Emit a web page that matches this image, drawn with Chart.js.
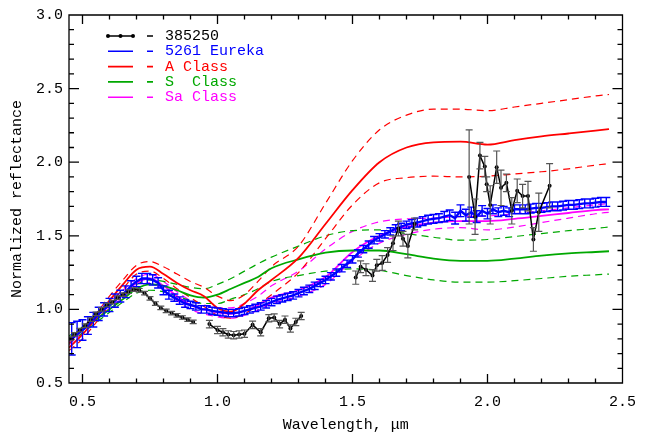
<!DOCTYPE html>
<html>
<head>
<meta charset="utf-8">
<script src="https://cdn.jsdelivr.net/npm/chart.js@4"></script>
<style>
  html, body { margin: 0; padding: 0; background: #fff; }
  canvas { display: block; }
</style>
</head>
<body>
<canvas id="myChart" width="646" height="441"></canvas>
<script>
// axis ticks
const xTickVals = [0.5, 1.0, 1.5, 2.0, 2.5];
const yTickVals = [0.5, 1.0, 1.5, 2.0, 2.5, 3.0];

// model classes (mean and +/- envelope)
const modelWave = [0.45, 0.50, 0.55, 0.60, 0.65, 0.70, 0.75, 0.80, 0.85, 0.90, 0.95, 1.00, 1.05, 1.10, 1.15, 1.20,
  1.30, 1.40, 1.50, 1.60, 1.70, 1.80, 1.90, 2.00, 2.10, 2.20, 2.30, 2.40, 2.45];
const aClass = [0.74, 0.83, 0.94, 1.06, 1.17, 1.27, 1.29, 1.24, 1.18, 1.13, 1.09, 1.01, 0.985, 1.04, 1.13, 1.20,
  1.35, 1.58, 1.81, 2.00, 2.10, 2.135, 2.14, 2.12, 2.15, 2.175, 2.195, 2.215, 2.225];
const aClassHi = [0.77, 0.86, 0.97, 1.09, 1.20, 1.30, 1.325, 1.29, 1.24, 1.19, 1.15, 1.09, 1.06, 1.10, 1.19, 1.29,
  1.43, 1.72, 2.01, 2.22, 2.32, 2.36, 2.36, 2.35, 2.375, 2.40, 2.425, 2.45, 2.46];
const aClassLo = [0.72, 0.80, 0.91, 1.03, 1.14, 1.24, 1.26, 1.21, 1.14, 1.08, 1.02, 0.96, 0.94, 0.97, 1.03, 1.10,
  1.25, 1.48, 1.71, 1.86, 1.895, 1.905, 1.90, 1.905, 1.92, 1.935, 1.955, 1.98, 1.99];
const sClass = [0.79, 0.86, 0.93, 1.00, 1.07, 1.14, 1.17, 1.16, 1.13, 1.095, 1.08, 1.10, 1.14, 1.18, 1.22, 1.28,
  1.34, 1.385, 1.40, 1.40, 1.375, 1.345, 1.33, 1.33, 1.345, 1.365, 1.38, 1.39, 1.395];
const sClassHi = [0.82, 0.88, 0.95, 1.02, 1.10, 1.17, 1.20, 1.19, 1.17, 1.15, 1.14, 1.17, 1.21, 1.26, 1.31, 1.355,
  1.43, 1.50, 1.535, 1.54, 1.515, 1.49, 1.47, 1.475, 1.495, 1.515, 1.535, 1.55, 1.56];
const sClassLo = [0.77, 0.84, 0.91, 0.98, 1.05, 1.11, 1.13, 1.12, 1.09, 1.06, 1.04, 1.04, 1.07, 1.10, 1.14, 1.19,
  1.23, 1.26, 1.275, 1.265, 1.23, 1.20, 1.185, 1.185, 1.195, 1.21, 1.225, 1.235, 1.24];
const saClass = [0.78, 0.86, 0.95, 1.03, 1.10, 1.18, 1.21, 1.16, 1.09, 1.03, 1.00, 0.98, 0.97, 0.99, 1.03, 1.08,
  1.13, 1.22, 1.39, 1.50, 1.56, 1.59, 1.60, 1.60, 1.615, 1.635, 1.655, 1.675, 1.68];
const saClassHi = [0.80, 0.88, 0.97, 1.05, 1.13, 1.21, 1.24, 1.19, 1.12, 1.06, 1.03, 1.01, 1.01, 1.04, 1.09, 1.16,
  1.26, 1.41, 1.53, 1.595, 1.615, 1.62, 1.63, 1.635, 1.65, 1.67, 1.69, 1.71, 1.72];
const saClassLo = [0.76, 0.84, 0.93, 1.01, 1.08, 1.15, 1.18, 1.13, 1.06, 1.00, 0.97, 0.95, 0.94, 0.96, 0.995, 1.04,
  1.09, 1.17, 1.33, 1.45, 1.51, 1.545, 1.555, 1.54, 1.56, 1.59, 1.62, 1.65, 1.66];

// 5261 Eureka spectrum
const eurekaWave = [0.46, 0.48, 0.50, 0.52, 0.54, 0.56, 0.58, 0.60, 0.62, 0.64, 0.66, 0.68, 0.70, 0.72, 0.74, 0.76,
  0.78, 0.80, 0.82, 0.84, 0.86, 0.88, 0.90, 0.92, 0.94, 0.96, 0.98, 1.00, 1.02, 1.04, 1.06, 1.08, 1.10, 1.12, 1.14,
  1.16, 1.18, 1.20, 1.22, 1.24, 1.26, 1.28, 1.30, 1.32, 1.34, 1.36, 1.38, 1.40, 1.42, 1.44, 1.46, 1.48, 1.50, 1.52,
  1.54, 1.56, 1.58, 1.60, 1.62, 1.64, 1.66, 1.68, 1.70, 1.72, 1.74, 1.76, 1.78, 1.80, 1.82, 1.84, 1.86, 1.88, 1.90,
  1.92, 1.94, 1.96, 1.98, 2.00, 2.02, 2.04, 2.06, 2.08, 2.10, 2.12, 2.14, 2.16, 2.18, 2.20, 2.22, 2.24, 2.26, 2.28,
  2.30, 2.32, 2.34, 2.36, 2.38, 2.40, 2.42, 2.44];
const eurekaRefl = [0.80, 0.83, 0.86, 0.89, 0.93, 0.97, 1.00, 1.03, 1.06, 1.09, 1.12, 1.16, 1.19, 1.21, 1.21, 1.20,
  1.18, 1.13, 1.10, 1.08, 1.06, 1.04, 1.03, 1.02, 1.00, 1.00, 0.99, 0.985, 0.98, 0.975, 0.975, 0.98, 0.99, 1.00, 1.01,
  1.02, 1.035, 1.05, 1.065, 1.075, 1.085, 1.095, 1.11, 1.125, 1.14, 1.16, 1.18, 1.20, 1.225, 1.25, 1.28, 1.31, 1.34, 1.38,
  1.41, 1.44, 1.47, 1.49, 1.51, 1.53, 1.55, 1.56, 1.575, 1.585, 1.59, 1.60, 1.61, 1.615, 1.62, 1.63, 1.64, 1.62, 1.67,
  1.64, 1.66, 1.63, 1.67, 1.65, 1.68, 1.66, 1.67, 1.66, 1.68, 1.68, 1.68, 1.685, 1.69, 1.69, 1.695, 1.70, 1.70, 1.705,
  1.71, 1.71, 1.715, 1.72, 1.72, 1.725, 1.73, 1.73];
const eurekaErr = [0.11, 0.09, 0.07, 0.06, 0.05, 0.045, 0.045, 0.045, 0.045, 0.04, 0.04, 0.035, 0.035, 0.035, 0.035, 0.035,
  0.035, 0.03, 0.03, 0.025, 0.025, 0.025, 0.025, 0.025, 0.025, 0.025, 0.025, 0.025, 0.025, 0.025, 0.025, 0.025, 0.025, 0.025, 0.025,
  0.025, 0.025, 0.025, 0.025, 0.025, 0.025, 0.025, 0.025, 0.025, 0.025, 0.025, 0.025, 0.025, 0.025, 0.025, 0.025, 0.025, 0.025, 0.025,
  0.025, 0.025, 0.025, 0.025, 0.025, 0.025, 0.025, 0.025, 0.025, 0.025, 0.03, 0.03, 0.03, 0.03, 0.03, 0.035, 0.035, 0.04, 0.04,
  0.04, 0.035, 0.04, 0.035, 0.035, 0.03, 0.03, 0.03, 0.03, 0.03, 0.03, 0.03, 0.03, 0.03, 0.03, 0.03, 0.03, 0.03, 0.03,
  0.03, 0.03, 0.03, 0.03, 0.03, 0.03, 0.03, 0.03];

// 385250 spectrum (null = gap between segments)
const obsWave = [0.45, 0.47, 0.49, 0.51, 0.53, 0.55, 0.57, 0.59, 0.61, 0.63, 0.65, 0.67, 0.69, 0.71, 0.73, 0.75, 0.77,
  0.79, 0.81, 0.83, 0.85, 0.87, 0.89, 0.91,
  0.94,
  0.97, 1.00, 1.02, 1.04, 1.06, 1.08, 1.10, 1.13, 1.16, 1.19, 1.21, 1.23, 1.25, 1.27, 1.29, 1.31,
  1.40,
  1.512, 1.53, 1.55, 1.574, 1.59, 1.61, 1.63, 1.65, 1.67, 1.687, 1.705, 1.73,
  1.83,
  1.932, 1.954, 1.972, 1.99, 1.997, 2.01, 2.034, 2.05, 2.07, 2.09, 2.11, 2.13, 2.15, 2.17, 2.19, 2.23];
const obsRefl = [0.80, 0.83, 0.86, 0.89, 0.93, 0.97, 1.00, 1.03, 1.05, 1.08, 1.10, 1.12, 1.135, 1.13, 1.11, 1.075, 1.04,
  1.01, 0.99, 0.975, 0.96, 0.945, 0.93, 0.915,
  null,
  0.90, 0.86, 0.845, 0.83, 0.825, 0.83, 0.835, 0.895, 0.845, 0.94, 0.945, 0.90, 0.93, 0.87, 0.915, 0.955,
  null,
  1.216, 1.29, 1.27, 1.23, 1.30, 1.315, 1.37, 1.45, 1.55, 1.48, 1.43, 1.58,
  null,
  1.90, 1.63, 2.045, 1.97, 1.85, 1.71, 1.966, 1.826, 1.86, 1.67, 1.806, 1.77, 1.77, 1.475, 1.66, 1.84];
const obsErr = [0.012, 0.012, 0.012, 0.012, 0.012, 0.012, 0.012, 0.012, 0.012, 0.012, 0.012, 0.012, 0.012, 0.012, 0.012,
  0.012, 0.012, 0.012, 0.012, 0.012, 0.012, 0.012, 0.012, 0.012,
  0,
  0.025, 0.025, 0.025, 0.025, 0.025, 0.025, 0.025, 0.025, 0.025, 0.025, 0.025, 0.025, 0.025, 0.025, 0.025, 0.025,
  0,
  0.045, 0.04, 0.04, 0.04, 0.04, 0.05, 0.05, 0.05, 0.05, 0.05, 0.08, 0.04,
  0,
  0.32, 0.12, 0.09, 0.07, 0.05, 0.13, 0.11, 0.12, 0.06, 0.09, 0.08, 0.08, 0.10, 0.08, 0.13, 0.15];

const FONT = "'Liberation Mono', 'DejaVu Sans Mono', monospace";
const RED = "#ff0000", GREEN = "#00a800", MAGENTA = "#ff00ff", BLUE = "#0000ff";

const pts = (xs, ys) => xs.map((x, i) => ({ x: x, y: ys[i] }));

const model = (label, ys, color, dashed, order) => ({
  label: label,
  data: pts(modelWave, ys),
  borderColor: color,
  borderWidth: dashed ? 1.2 : 1.8,
  borderDash: dashed ? [7, 5] : [],
  pointRadius: 0,
  cubicInterpolationMode: "monotone",
  fill: false,
  order: order,
});

//Error bars drawn right after their own dataset
const errorBars = {
  id: "errorBars",
  afterDatasetDraw(chart, args) {
    const ds = chart.data.datasets[args.index];
    if (!ds.errors) return;
    const { ctx, chartArea: a, scales: { x, y } } = chart;
    ctx.save();
    ctx.beginPath();
    ctx.rect(a.left, a.top, a.right - a.left, a.bottom - a.top);
    ctx.clip();
    ctx.strokeStyle = ds.errorColor;
    ctx.lineWidth = ds.errorWidth;
    ctx.beginPath();
    ds.data.forEach((p, i) => {
      const e = ds.errors[i];
      if (p.y === null || !e) return;
      const px = x.getPixelForValue(p.x);
      const top = y.getPixelForValue(p.y + e);
      const bot = y.getPixelForValue(p.y - e);
      const cap = ds.capHalf;
      ctx.moveTo(px, top); ctx.lineTo(px, bot);
      ctx.moveTo(px - cap, top); ctx.lineTo(px + cap, top);
      ctx.moveTo(px - cap, bot); ctx.lineTo(px + cap, bot);
    });
    ctx.stroke();
    ctx.restore();
  },
};

//Frame, inward ticks and legend
const frame = {
  id: "frame",
  afterDraw(chart) {
    const { ctx, chartArea: a, scales: { x, y } } = chart;
    const seg = (x1, y1, x2, y2) => { ctx.moveTo(x1, y1); ctx.lineTo(x2, y2); };
    ctx.save();
    ctx.strokeStyle = "#000";
    ctx.lineWidth = 1.3;
    ctx.beginPath();
    ctx.rect(a.left, a.top, a.right - a.left, a.bottom - a.top);
    for (let i = 5; i <= 25; i++) {
      const px = x.getPixelForValue(i / 10);
      const len = i % 5 === 0 ? 9 : 4.5;
      seg(px, a.bottom, px, a.bottom - len);
      seg(px, a.top, px, a.top + len);
    }
    for (let i = 5; i <= 30; i++) {
      const py = y.getPixelForValue(i / 10);
      const len = i % 5 === 0 ? 10 : 5;
      seg(a.left, py, a.left + len, py);
      seg(a.right, py, a.right - len, py);
    }
    ctx.stroke();

    // legend
    const rows = [
      { text: "385250", color: "#000", dots: true },
      { text: "5261 Eureka", color: BLUE },
      { text: "A Class", color: RED },
      { text: "S  Class", color: GREEN },
      { text: "Sa Class", color: MAGENTA },
    ];
    ctx.font = "15px " + FONT;
    ctx.textBaseline = "middle";
    rows.forEach((r, i) => {
      const ly = 36 + i * 15.3;
      ctx.strokeStyle = r.color;
      ctx.fillStyle = r.color;
      ctx.lineWidth = 1.6;
      ctx.beginPath();
      seg(108, ly, 133, ly);
      seg(147, ly, 153, ly);
      ctx.stroke();
      if (r.dots) {
        [108, 120.5, 133].forEach((dx) => {
          ctx.beginPath();
          ctx.arc(dx, ly, 2, 0, Math.PI * 2);
          ctx.fill();
        });
      }
      ctx.fillText(r.text, 165, ly);
    });
    ctx.restore();
  },
};

const ctx = document.getElementById("myChart");

new Chart(ctx, {
  type: "line",
  data: {
    datasets: [
      {
        label: "385250",
        data: pts(obsWave, obsRefl),
        errors: obsErr,
        errorColor: "#555555",
        errorWidth: 1.2,
        capHalf: 3.5,
        borderColor: "#000",
        backgroundColor: "#000",
        borderWidth: 1.5,
        pointRadius: 2,
        pointBorderWidth: 0,
        spanGaps: false,
        order: 0,
      },
      {
        label: "5261 Eureka",
        data: pts(eurekaWave, eurekaRefl),
        errors: eurekaErr,
        errorColor: BLUE,
        errorWidth: 1.4,
        capHalf: 4,
        borderColor: BLUE,
        borderWidth: 2.4,
        pointRadius: 0,
        order: 1,
      },
      model("A Class", aClass, RED, false, 2),
      model("A Class +", aClassHi, RED, true, 3),
      model("A Class -", aClassLo, RED, true, 3),
      model("S Class", sClass, GREEN, false, 2),
      model("S Class +", sClassHi, GREEN, true, 3),
      model("S Class -", sClassLo, GREEN, true, 3),
      model("Sa Class", saClass, MAGENTA, false, 2),
      model("Sa Class +", saClassHi, MAGENTA, true, 3),
      model("Sa Class -", saClassLo, MAGENTA, true, 3),
    ],
  },
  options: {
    responsive: false,
    animation: false,
    layout: { padding: { top: 6, right: 15, left: 0, bottom: 0 } },
    plugins: {
      legend: { display: false },
      tooltip: { enabled: false },
    },
    scales: {
      x: {
        type: "linear",
        min: 0.45,
        max: 2.5,
        afterBuildTicks: (s) => { s.ticks = xTickVals.map((v) => ({ value: v })); },
        afterFit: (s) => { s.height = 58; },
        grid: { display: false, drawTicks: false },
        border: { display: false },
        ticks: {
          color: "#000",
          font: { family: FONT, size: 15 },
          padding: 10,
          maxRotation: 0,
          autoSkip: false,
          callback: (v) => v.toFixed(1),
        },
        title: {
          display: true,
          text: "Wavelength, μm",
          color: "#000",
          font: { family: FONT, size: 15 },
          padding: { top: 0, bottom: 7 },
        },
      },
      y: {
        min: 0.5,
        max: 3.0,
        afterBuildTicks: (s) => { s.ticks = yTickVals.map((v) => ({ value: v })); },
        afterFit: (s) => { s.width = 69; },
        grid: { display: false, drawTicks: false },
        border: { display: false },
        ticks: {
          color: "#000",
          font: { family: FONT, size: 15 },
          padding: 6,
          autoSkip: false,
          callback: (v) => v.toFixed(1),
        },
        title: {
          display: true,
          text: "Normalized reflectance",
          color: "#000",
          font: { family: FONT, size: 15 },
          padding: { top: 8, bottom: 0 },
        },
      },
    },
  },
  plugins: [errorBars, frame],
});
</script>
</body>
</html>
